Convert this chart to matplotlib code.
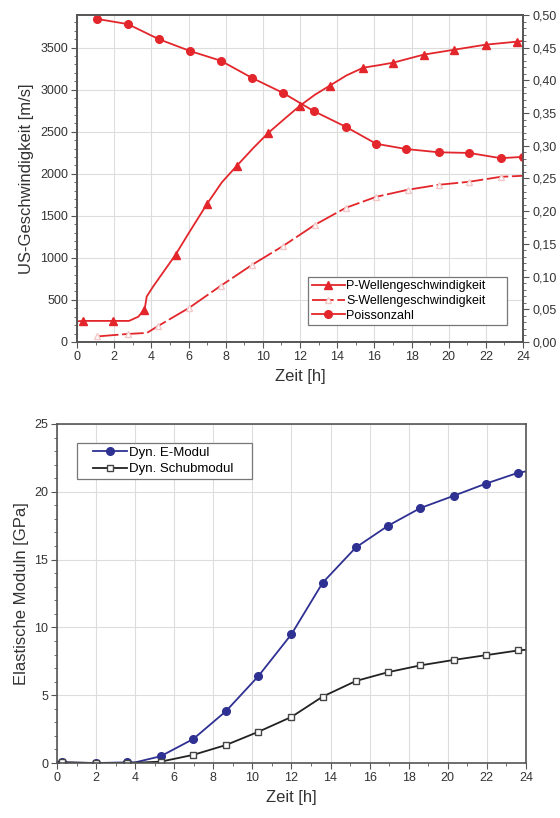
import matplotlib
matplotlib.use("Agg")
import matplotlib.pyplot as plt
from matplotlib.patches import Rectangle
from matplotlib.ticker import MultipleLocator, FuncFormatter

plt.rcParams['font.family'] = ['Liberation Sans', 'DejaVu Sans']

# Oben: Ultraschallgeschwindigkeiten und Poissonzahl
p_t = [0, 0.3, 1.95, 2.8, 3.3, 3.6, 3.65, 3.75, 4.1, 5.3, 6.0, 7.0, 7.8, 8.6, 9.5, 10.3, 11.2,
       12.0, 12.8, 13.6, 14.5, 15.4, 16.2, 17.0, 18.65, 20.3, 22.0, 23.65, 24]
p_v = [245, 250, 250, 250, 300, 381, 400, 540, 660, 1036, 1290, 1643, 1900, 2095, 2310, 2488, 2660,
       2810, 2940, 3048, 3170, 3262, 3290, 3321, 3417, 3476, 3536, 3571, 3580]
p_mark = [1, 2, 5, 9, 11, 13, 15, 17, 19, 21, 23, 24, 25, 26, 27]

s_t = [1.07, 2.74, 3.76, 4.37, 6.03, 7.73, 9.42, 11.1, 12.8, 14.46, 16.1, 17.8, 19.46, 21.1, 22.8, 24]
s_v = [65, 95, 107, 190, 405, 667, 917, 1143, 1393, 1595, 1726, 1810, 1869, 1905, 1964, 1976]
s_mark = [0, 1, 3, 4, 5, 6, 7, 8, 9, 10, 11, 12, 13, 14]

nu_t = [1.07, 2.74, 4.4, 6.07, 7.74, 9.4, 11.07, 12.74, 14.46, 16.1, 17.7, 19.46, 21.1, 22.8, 24]
nu_v = [0.494, 0.486, 0.463, 0.445, 0.430, 0.404, 0.381, 0.353, 0.329, 0.303, 0.295, 0.290,
        0.289, 0.281, 0.283]

# Unten: dynamische Moduln
e_t = [0, 0.26, 1.98, 3.6, 4.0, 5.3, 6.97, 8.65, 10.3, 12.0, 13.6, 15.3, 16.95, 18.6, 20.3,
       21.95, 23.6, 24]
e_v = [0.1, 0.05, 0.0, 0.05, 0.05, 0.5, 1.77, 3.83, 6.4, 9.5, 13.3, 15.9, 17.5, 18.8, 19.7,
       20.6, 21.4, 21.5]
g_t = [0, 0.26, 1.98, 3.6, 5.3, 6.97, 8.65, 10.3, 12.0, 13.6, 15.3, 16.95, 18.6, 20.3, 21.95,
       23.6, 24]
g_v = [0.05, 0.05, 0.0, 0.0, 0.1, 0.6, 1.33, 2.3, 3.4, 4.9, 6.05, 6.7, 7.2, 7.6, 7.95, 8.3, 8.35]

red = '#e3262b'
navy = '#2e3192'
txt = '#333333'

fig = plt.figure(figsize=(5.6, 8.18), dpi=100)
ax1 = fig.add_axes([0.1375, 0.582, 0.7965, 0.3997])
ax2 = ax1.twinx()
ax3 = fig.add_axes([0.102, 0.0672, 0.837, 0.4145])


def style_axes(ax):
    ax.grid(True, color='#dddddd', lw=0.8)
    ax.set_axisbelow(True)
    for sp in ax.spines.values():
        sp.set_color('#555555')
        sp.set_linewidth(1.2)
    ax.tick_params(which='both', direction='out', colors='#555555', labelcolor=txt, labelsize=9)
    ax.tick_params(which='major', length=4, pad=2.5)
    ax.tick_params(which='minor', length=2)


def legend_box(ax, x0, y0, x1, y1):
    # Legendenrahmen mit breitem Innenabstand wie im Original
    ax.add_patch(Rectangle((x0, y0), x1 - x0, y1 - y0, transform=ax.transAxes,
                           facecolor='white', edgecolor='#777777', lw=0.9, zorder=4))


comma = lambda d: FuncFormatter(lambda v, pos: f'{v:.{d}f}'.replace('.', ','))

# --- oberes Diagramm ---
style_axes(ax1)
l1, = ax1.plot(p_t, p_v, color=red, lw=1.3, marker='^', ms=5.5, markevery=p_mark,
               label='P-Wellengeschwindigkeit')
l2, = ax1.plot(s_t, s_v, color=red, lw=1.3, dashes=(12, 2), marker='^', ms=5, mfc='white',
               mec='#f3c8c8', markevery=s_mark, label='S-Wellengeschwindigkeit')
l3, = ax2.plot(nu_t, nu_v, color=red, lw=1.3, marker='o', ms=5.5, label='Poissonzahl')
ax1.set_xlim(0, 24)
ax1.set_ylim(0, 3889)
ax2.set_ylim(0, 0.5)
ax1.xaxis.set_major_locator(MultipleLocator(2))
ax1.xaxis.set_minor_locator(MultipleLocator(1))
ax1.yaxis.set_major_locator(MultipleLocator(500))
ax1.yaxis.set_minor_locator(MultipleLocator(100))
ax2.yaxis.set_major_locator(MultipleLocator(0.05))
ax2.yaxis.set_minor_locator(MultipleLocator(0.01))
ax2.yaxis.set_major_formatter(comma(2))
for sp in ax2.spines.values():
    sp.set_color('#555555')
    sp.set_linewidth(1.2)
ax2.tick_params(which='both', direction='out', colors='#555555', labelcolor=txt, labelsize=9)
ax2.tick_params(which='major', length=4, pad=2.5)
ax2.tick_params(which='minor', length=2)
ax1.set_xlabel('Zeit [h]', fontsize=12, color=txt, labelpad=4)
ax1.set_ylabel('US-Geschwindigkeit [m/s]', fontsize=12, color=txt, labelpad=4)
legend_box(ax2, 0.518, 0.052, 0.964, 0.199)
leg = ax2.legend(handles=[l1, l2, l3], loc='center left', bbox_to_anchor=(0.527, 0.1255),
                 fontsize=9, frameon=False, borderpad=0, labelspacing=0.22,
                 handlelength=2.6, handletextpad=0.15, borderaxespad=0)
leg.set_zorder(5)

# --- unteres Diagramm ---
style_axes(ax3)
ax3.plot(e_t, e_v, color=navy, lw=1.3, marker='o', ms=5.5,
         markevery=list(range(1, 4)) + list(range(5, 17)), label='Dyn. E-Modul')
ax3.plot(g_t, g_v, color='#222222', lw=1.3, marker='s', ms=5, mfc='white', mec='#444444',
         markevery=list(range(1, 16)), label='Dyn. Schubmodul')
ax3.set_xlim(0, 24)
ax3.set_ylim(0, 25)
ax3.xaxis.set_major_locator(MultipleLocator(2))
ax3.xaxis.set_minor_locator(MultipleLocator(1))
ax3.yaxis.set_major_locator(MultipleLocator(5))
ax3.yaxis.set_minor_locator(MultipleLocator(1))
ax3.set_xlabel('Zeit [h]', fontsize=12, color=txt, labelpad=4)
ax3.set_ylabel('Elastische Moduln [GPa]', fontsize=12, color=txt, labelpad=4)
legend_box(ax3, 0.0426, 0.838, 0.4158, 0.944)
leg2 = ax3.legend(loc='center left', bbox_to_anchor=(0.0768, 0.891), fontsize=9.5,
                  frameon=False, borderpad=0, labelspacing=0.3, handlelength=2.6,
                  handletextpad=0.15, borderaxespad=0)
leg2.set_zorder(5)

fig.savefig('out.png', dpi=100)
